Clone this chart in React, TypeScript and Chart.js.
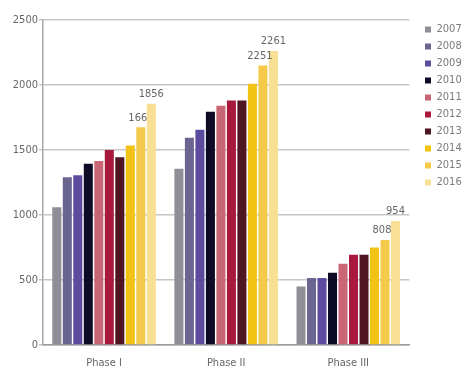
import React, { useEffect, useRef } from "react";
import { Chart, registerables } from "chart.js";

Chart.register(...registerables);

const phases = ["Phase I", "Phase II", "Phase III"];
const years = ["2007", "2008", "2009", "2010", "2011", "2012", "2013", "2014", "2015", "2016"];

const v2007 = [1060, 1355, 450];
const v2008 = [1290, 1595, 515];
const v2009 = [1305, 1655, 515];
const v2010 = [1395, 1795, 555];
const v2011 = [1415, 1840, 625];
const v2012 = [1500, 1880, 695];
const v2013 = [1445, 1880, 695];
const v2014 = [1535, 2010, 750];
const v2015 = [1675, 2150, 808];
const v2016 = [1856, 2261, 954];

// Value labels printed above the last two years of each phase
const labels2015 = ["166", "2251", "808"];
const labels2016 = ["1856", "2261", "954"];

const yTicks = [0, 500, 1000, 1500, 2000, 2500];

const seriesValues = [v2007, v2008, v2009, v2010, v2011, v2012, v2013, v2014, v2015, v2016];
const colors = [
  "#8d8e96",
  "#6b6591",
  "#5d4b9f",
  "#0e0b26",
  "#c86676",
  "#a9193d",
  "#4f1523",
  "#f2c315",
  "#f5ca4b",
  "#f8df94",
];

const FONT = "'DejaVu Sans Condensed', 'Liberation Sans Narrow', sans-serif";

const valueLabelPlugin = {
  id: "valueLabels",
  afterDatasetsDraw(chart: any) {
    const ctx = chart.ctx;
    ctx.save();
    ctx.font = `11px ${FONT}`;
    ctx.fillStyle = "#666";
    ctx.textAlign = "center";
    ctx.textBaseline = "bottom";
    const groups = [
      { ds: 8, texts: labels2015, dx: -3 },
      { ds: 9, texts: labels2016, dx: 0 },
    ];
    groups.forEach((g) => {
      const meta = chart.getDatasetMeta(g.ds);
      meta.data.forEach((bar: any, i: number) => {
        ctx.fillText(g.texts[i], bar.x + g.dx, bar.y - 4);
      });
    });
    ctx.restore();
  },
};

// Nudges the legend block so its entries sit at the right edge, level with the top of the plot
const legendOffsetPlugin = {
  id: "legendOffset",
  afterLayout(chart: any) {
    const lg = chart.legend;
    if (!lg) return;
    const dx = 419 - lg.left;
    const dy = 18 - lg.top;
    lg.left += dx;
    lg.right += dx;
    lg.top += dy;
    lg.bottom += dy;
  },
};

export default function App() {
  const canvasRef = useRef<HTMLCanvasElement | null>(null);

  useEffect(() => {
    document.body.style.margin = "0";
    document.body.style.background = "#fff";
    const canvas = canvasRef.current;
    if (!canvas) return;
    const chart = new Chart(canvas, {
      type: "bar",
      data: {
        labels: phases,
        datasets: years.map((y, i) => ({
          label: y,
          data: seriesValues[i],
          backgroundColor: colors[i],
          borderWidth: 0,
          categoryPercentage: 0.86,
          barPercentage: 0.86,
        })),
      },
      options: {
        animation: false,
        responsive: false,
        maintainAspectRatio: false,
        layout: { padding: { top: 20, right: 2, bottom: 0, left: 0 } },
        plugins: {
          legend: {
            position: "right",
            align: "start",
            labels: {
              boxWidth: 6,
              boxHeight: 6,
              padding: 6,
              color: "#7a7a7a",
              font: { family: FONT, size: 11 },
            },
          },
          tooltip: { enabled: false },
        },
        scales: {
          x: {
            afterFit(scale: any) {
              scale.height = 27;
            },
            grid: { display: false, drawTicks: false },
            border: { display: true, color: "#9a9a9a", width: 1.5 },
            ticks: {
              color: "#666",
              padding: 12,
              font: { family: FONT, size: 11 },
            },
          },
          y: {
            min: 0,
            max: 2500,
            afterBuildTicks(scale: any) {
              scale.ticks = yTicks.map((v) => ({ value: v }));
            },
            afterFit(scale: any) {
              scale.width = 43;
            },
            grid: {
              color: "#c6c6c6",
              lineWidth: 1.5,
              tickLength: 4,
              drawTicks: true,
            },
            border: { display: true, color: "#a8a8a8", width: 1.5 },
            ticks: {
              color: "#666",
              padding: 1,
              font: { family: FONT, size: 11 },
              callback: (v: any) => String(v),
            },
          },
        },
      },
      plugins: [valueLabelPlugin, legendOffsetPlugin],
    });
    return () => chart.destroy();
  }, []);

  return (
    <div style={{ width: 464, height: 372 }}>
      <canvas ref={canvasRef} width={464} height={372} style={{ display: "block" }} />
    </div>
  );
}
